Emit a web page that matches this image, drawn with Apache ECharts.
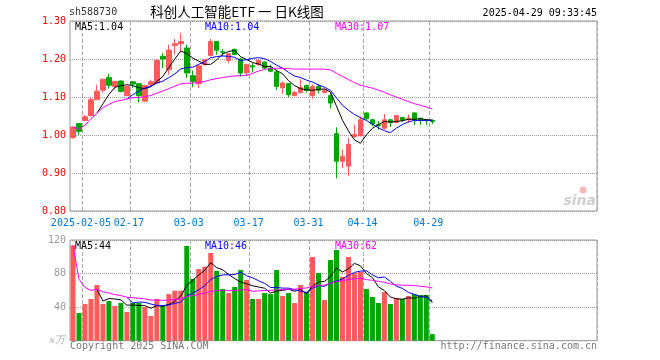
<!DOCTYPE html>
<html><head><meta charset="utf-8">
<script src="https://cdn.jsdelivr.net/npm/echarts@6/dist/echarts.min.js"></script>
<style>html,body{margin:0;padding:0;background:#fff}#c{width:660px;height:360px}</style>
</head><body><div id="c"></div>
<script>
const dates = [
'2025-01-24','2025-01-27',
'2025-02-05','2025-02-06','2025-02-07',
'2025-02-10','2025-02-11','2025-02-12','2025-02-13','2025-02-14',
'2025-02-17','2025-02-18','2025-02-19','2025-02-20','2025-02-21',
'2025-02-24','2025-02-25','2025-02-26','2025-02-27','2025-02-28',
'2025-03-03','2025-03-04','2025-03-05','2025-03-06','2025-03-07',
'2025-03-10','2025-03-11','2025-03-12','2025-03-13','2025-03-14',
'2025-03-17','2025-03-18','2025-03-19','2025-03-20','2025-03-21',
'2025-03-24','2025-03-25','2025-03-26','2025-03-27','2025-03-28',
'2025-03-31','2025-04-01','2025-04-02','2025-04-03',
'2025-04-07','2025-04-08','2025-04-09','2025-04-10','2025-04-11',
'2025-04-14','2025-04-15','2025-04-16','2025-04-17','2025-04-18',
'2025-04-21','2025-04-22','2025-04-23','2025-04-24','2025-04-25',
'2025-04-28','2025-04-29'];
const opens  = [0.993,1.030,1.038,1.051,1.093,1.118,1.151,1.128,1.142,1.1035,1.140,1.135,1.089,1.132,1.137,1.207,1.172,1.235,1.240,1.229,1.156,1.135,1.185,1.209,1.246,1.219,1.196,1.225,1.200,1.163,1.182,1.185,1.192,1.176,1.166,1.124,1.135,1.1035,1.112,1.130,1.1035,1.128,1.112,1.1035,1.0035,0.931,0.918,0.996,0.998,1.058,1.040,1.027,1.018,1.040,1.033,1.046,1.040,1.058,1.044,1.040,1.038];
const closes = [1.021,1.009,1.048,1.093,1.115,1.147,1.131,1.141,1.115,1.128,1.134,1.1035,1.130,1.140,1.196,1.200,1.223,1.240,1.246,1.163,1.141,1.182,1.198,1.246,1.223,1.218,1.214,1.212,1.163,1.185,1.179,1.196,1.176,1.168,1.128,1.137,1.106,1.112,1.125,1.117,1.128,1.118,1.118,1.084,0.931,0.944,0.975,1.001,1.040,1.043,1.029,1.025,1.040,1.033,1.051,1.039,1.044,1.040,1.040,1.038,1.035];
const lows   = [0.990,1.001,1.037,1.049,1.093,1.111,1.122,1.120,1.112,1.103,1.124,1.086,1.087,1.128,1.134,1.176,1.159,1.211,1.218,1.150,1.126,1.124,1.183,1.207,1.211,1.207,1.189,1.210,1.154,1.156,1.165,1.183,1.174,1.165,1.118,1.109,1.100,1.102,1.109,1.112,1.095,1.110,1.109,1.070,0.886,0.913,0.893,0.992,0.996,1.040,1.023,1.014,1.014,1.021,1.030,1.034,1.032,1.027,1.027,1.027,1.029];
const highs  = [1.022,1.031,1.053,1.100,1.132,1.147,1.161,1.142,1.144,1.129,1.141,1.135,1.132,1.146,1.200,1.216,1.238,1.253,1.267,1.238,1.170,1.186,1.200,1.253,1.246,1.226,1.216,1.228,1.203,1.187,1.189,1.199,1.194,1.185,1.172,1.141,1.137,1.116,1.147,1.133,1.133,1.134,1.122,1.110,1.020,0.961,0.992,1.027,1.049,1.060,1.043,1.037,1.056,1.042,1.051,1.048,1.054,1.060,1.046,1.042,1.041];
const volumes = [113.7,33.0,43.7,49.7,66.4,43.7,47.3,41.3,44.9,34.2,44.9,44.9,40.1,29.4,49.7,41.3,55.6,59.6,59.6,112.9,73.5,85.4,88.2,104.5,83.1,61.6,56.8,64.0,84.2,72.3,49.7,49.7,56.8,55.6,84.2,53.3,56.8,44.9,66.4,58.0,99.7,80.7,48.5,96.2,108.1,75.9,99.7,80.7,81.9,61.6,52.1,44.9,58.0,43.7,50.9,49.7,53.3,55.6,54.4,54.4,7.9];
const tickDates  = ['2025-02-05','2025-02-17','2025-03-03','2025-03-17','2025-03-31','2025-04-14','2025-04-29'];
const tickLabels = ['2025-02-05','02-17','03-03','03-17','03-31','04-14','04-29'];
const priceMALabels = ['MA5:1.04','MA10:1.04','MA30:1.07'];
const volMALabels = ['MA5:44','MA10:46','MA30:62'];

const RED = '#ff5b5b', GREEN = '#00a600';
const MONO = '"DejaVu Sans Mono", "Liberation Mono", monospace';
const totalSlots = 88;
const cats = dates.slice();
for (let k = dates.length; k < totalSlots; k++) cats.push('pad' + k);
const isTick = (i, v) => tickDates.indexOf(v) >= 0;

function ma(arr, n, partial) {
  return arr.map((v, i) => {
    if (i < n - 1 && !partial) return '-';
    const s = arr.slice(Math.max(0, i - n + 1), i + 1);
    return s.reduce((a, b) => a + b, 0) / s.length;
  });
}

const chart = echarts.init(document.getElementById('c'), null, {renderer: 'canvas'});
const gridStyle = {show: true, borderColor: '#999', borderWidth: 1, backgroundColor: 'transparent'};
const xBase = (gi, showLabel) => ({
  type: 'category', gridIndex: gi, data: cats, boundaryGap: true,
  axisLine: {show: false}, axisTick: {show: false},
  axisLabel: {show: showLabel, interval: isTick, color: '#0078d7', fontFamily: MONO, fontSize: 10, margin: 7,
    padding: [0, 8, 0, 0],
    formatter: v => { const k = tickDates.indexOf(v); return k >= 0 ? tickLabels[k] : ''; }},
  splitLine: {show: true, interval: isTick, lineStyle: {color: '#a8a8a8', width: 1, type: 'dashed'}}
});
const lineS = (xi, data, color) => ({type: 'line', xAxisIndex: xi, yAxisIndex: xi, data: data, symbol: 'none', silent: true,
  lineStyle: {color: color, width: 1}, itemStyle: {color: color}, z: 5});

chart.setOption({
  animation: false,
  backgroundColor: '#fff',
  grid: [
    Object.assign({left: 70, top: 21, width: 527, height: 190}, gridStyle),
    Object.assign({left: 70, top: 240, width: 527, height: 100.7}, gridStyle)
  ],
  xAxis: [xBase(0, true), xBase(1, false)],
  yAxis: [
    {type: 'value', gridIndex: 0, min: 0.8, max: 1.3, interval: 0.1,
     axisLine: {show: false}, axisTick: {show: false},
     axisLabel: {color: '#ff0000', fontFamily: MONO, fontSize: 10, margin: 4, padding: [3, 0, 0, 0], formatter: v => v.toFixed(2)},
     splitLine: {show: true, lineStyle: {color: '#999', width: 1, type: 'dotted'}}},
    {type: 'value', gridIndex: 1, min: 0, max: 120, interval: 40,
     axisLine: {show: false}, axisTick: {show: false},
     axisLabel: {color: '#999', fontFamily: MONO, fontSize: 10, margin: 4, formatter: v => v === 0 ? '' : String(v)},
     splitLine: {show: true, lineStyle: {color: '#999', width: 1, type: 'dotted'}}}
  ],
  series: [
    {type: 'candlestick', xAxisIndex: 0, yAxisIndex: 0, barWidth: 5, silent: true,
     data: dates.map((d, i) => [opens[i], closes[i], lows[i], highs[i]]),
     itemStyle: {color: RED, color0: GREEN, borderColor: RED, borderColor0: GREEN, borderWidth: 1}},
    lineS(0, ma(closes, 5, false), '#000000'),
    lineS(0, ma(closes, 10, false), '#0000ff'),
    lineS(0, ma(closes, 30, true), '#ff00ff'),
    {type: 'bar', xAxisIndex: 1, yAxisIndex: 1, barWidth: 5, silent: true,
     data: volumes.map((v, i) => ({value: v, itemStyle: {color: closes[i] >= opens[i] ? RED : GREEN}}))},
    lineS(1, ma(volumes, 5, false), '#000000'),
    lineS(1, ma(volumes, 10, false), '#0000ff'),
    lineS(1, ma(volumes, 30, true), '#ff00ff')
  ],
  graphic: [
    {type: 'text', left: 69, top: 7, style: {text: 'sh588730', font: '10px ' + MONO, fill: '#333'}},
    {type: 'text', x: 237, y: 12, style: {text: '科创人工智能ETF 一 日K线图', font: '13.5px "Noto Sans CJK SC", sans-serif', fill: '#000', textAlign: 'center', textVerticalAlign: 'middle'}},
    {type: 'text', x: 597, y: 13, style: {text: '2025-04-29 09:33:45', font: '10px ' + MONO, fill: '#000', textAlign: 'right', textVerticalAlign: 'middle'}},
    {type: 'text', x: 75, y: 27, z: 10, style: {text: priceMALabels[0], font: '10px ' + MONO, fill: '#000', textVerticalAlign: 'middle'}},
    {type: 'text', x: 205, y: 27, z: 10, style: {text: priceMALabels[1], font: '10px ' + MONO, fill: '#0000ff', textVerticalAlign: 'middle'}},
    {type: 'text', x: 335, y: 27, z: 10, style: {text: priceMALabels[2], font: '10px ' + MONO, fill: '#ff00ff', textVerticalAlign: 'middle'}},
    {type: 'text', x: 75, y: 246, z: 10, style: {text: volMALabels[0], font: '10px ' + MONO, fill: '#000', textVerticalAlign: 'middle'}},
    {type: 'text', x: 205, y: 246, z: 10, style: {text: volMALabels[1], font: '10px ' + MONO, fill: '#0000ff', textVerticalAlign: 'middle'}},
    {type: 'text', x: 335, y: 246, z: 10, style: {text: volMALabels[2], font: '10px ' + MONO, fill: '#ff00ff', textVerticalAlign: 'middle'}},
    {type: 'text', x: 65, y: 340, style: {text: 'x万', font: 'italic 10px "DejaVu Serif", serif', fill: '#aaa', textAlign: 'right', textVerticalAlign: 'middle'}},
    {type: 'text', x: 70, y: 346, style: {text: 'Copyright 2025 SINA.COM', font: '10px ' + MONO, fill: '#777', textVerticalAlign: 'middle'}},
    {type: 'text', x: 597, y: 346, style: {text: 'http://finance.sina.com.cn', font: '10px ' + MONO, fill: '#777', textAlign: 'right', textVerticalAlign: 'middle'}},
    {type: 'circle', shape: {cx: 583, cy: 190, r: 3.5}, style: {fill: '#f4b8b8'}},
    {type: 'text', x: 596, y: 201, style: {text: 'sina', font: 'italic bold 14px "DejaVu Sans", sans-serif', fill: '#cfcfcf', textAlign: 'right', textVerticalAlign: 'middle'}}
  ]
});
</script></body></html>
